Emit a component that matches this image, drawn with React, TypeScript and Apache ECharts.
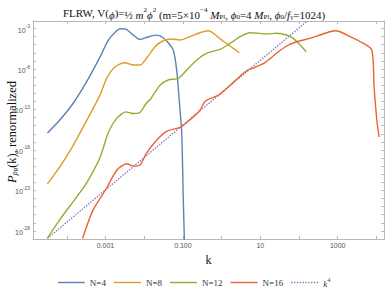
import React, { useEffect, useRef } from 'react';
import * as echarts from 'echarts';

// log10(k) and log10(P)
const n4LogK = [-4.50, -4.18, -3.83, -3.49, -3.14, -2.93, -2.75, -2.62, -2.47, -2.28, -2.11, -1.94, -1.72, -1.59, -1.42, -1.25, -1.16, -1.09, -1.03, -0.99, -0.964, -0.95];
const n4LogP = [-15.9, -14.3, -12.2, -9.6, -6.5, -4.45, -3.45, -3.02, -3.08, -3.82, -4.35, -4.11, -3.82, -3.91, -4.53, -5.67, -8.13, -12.2, -15.9, -24.1, -28.8, -31];

const n8LogK = [-4.50, -4.18, -3.83, -3.49, -3.14, -2.97, -2.75, -2.50, -2.28, -2.11, -1.94, -1.72, -1.51, -1.29, -1.07, -0.82, -0.56, -0.34, -0.21, 0.00, 0.22, 0.46];
const n8LogP = [-22.2, -20.1, -17.4, -14.4, -11.2, -9.15, -7.72, -7.22, -7.51, -7.51, -6.68, -5.25, -4.51, -4.30, -4.42, -4.01, -3.52, -3.27, -3.59, -4.42, -5.16, -5.99];

const n12LogK = [-4.50, -4.18, -3.79, -3.49, -3.14, -2.93, -2.71, -2.47, -2.29, -2.12, -1.94, -1.85, -1.59, -1.38, -1.12, -0.90, -0.64, -0.39, -0.04, 0.22, 0.48, 0.73, 0.95, 1.17, 1.42, 1.68, 1.85, 2.03, 2.18];
const n12LogP = [-28.9, -26.6, -24.1, -22.1, -18.9, -15.9, -14.1, -13.3, -13.5, -13.4, -12.2, -11.8, -10.0, -9.36, -9.15, -8.12, -6.89, -6.06, -5.57, -4.83, -4.01, -3.52, -3.59, -3.68, -3.59, -3.80, -4.21, -5.04, -5.86];

const n16LogK = [-3.59, -3.32, -2.97, -2.71, -2.45, -2.28, -2.11, -1.94, -1.68, -1.42, -1.07, -0.82, -0.56, -0.43, -0.21, -0.04, 0.13, 0.39, 0.65, 0.86, 1.12, 1.42, 1.68, 1.94, 2.28, 2.54, 2.80, 2.93, 3.06, 3.32, 3.58, 3.88, 3.94, 4.01, 4.07];
const n16LogP = [-28.9, -25.4, -22.7, -20.5, -19.7, -20.0, -19.85, -18.4, -16.8, -15.7, -15.2, -14.3, -13.1, -12.0, -11.5, -11.1, -10.4, -9.27, -8.21, -7.79, -7.22, -6.06, -5.16, -4.63, -4.21, -3.80, -3.40, -3.27, -3.40, -4.01, -4.63, -5.65, -10.2, -14.3, -16.4];

const k4LogK = [-4.50, 2.22];
const k4LogP = [-28.93, -2.05];

const seriesNames = ['N=4', 'N=8', 'N=12', 'N=16', 'k4'];
const seriesColors = ['#5E81B5', '#E19C24', '#8FB032', '#EB6235', '#8778B3'];

const xLabelValues = [-3, -1, 1, 3];
const xLabelTexts = ['0.001', '0.100', '10', '1000'];
const xTickValues = [-4, -3, -2, -1, 0, 1, 2, 3, 4];
const yLabelValues = [-28, -23, -18, -13, -8, -3];
const yTickValues = [-29, -28, -27, -26, -25, -24, -23, -22, -21, -20, -19, -18, -17, -16, -15, -14, -13, -12, -11, -10, -9, -8, -7, -6, -5, -4, -3];

const X_MIN = -4.873;
const X_MAX = 4.196;
const Y_MIN = -29;
const Y_MAX = -2.07;

const pair = (xs: number[], ys: number[]) => xs.map((x, i) => [x, ys[i]]);

const solidIcon = 'path://M0,0L27,0L27,1.4L0,1.4Z';
let dots = '';
for (let i = 0; i < 10; i++) dots += `M${(i * 2.85).toFixed(2)},0h1.4v1.4h-1.4Z`;
const dottedIcon = 'path://' + dots;

export default function App() {
  const ref = useRef<HTMLDivElement>(null);
  useEffect(() => {
    if (!ref.current) return;
    const chart = echarts.init(ref.current, undefined, { renderer: 'svg' });
    const frame = '#b8b8b8';
    const serif = '"Liberation Serif", "DejaVu Serif", serif';
    const sans = '"Liberation Sans", "DejaVu Sans", sans-serif';
    const baseX = (pos: 'bottom' | 'top', labels: boolean) => ({
      type: 'value', position: pos, min: X_MIN, max: X_MAX,
      axisLine: { show: true, onZero: false, lineStyle: { color: frame, width: 1 } },
      axisTick: { show: true, inside: true, length: 3, customValues: xTickValues, lineStyle: { color: frame } },
      axisLabel: labels ? {
        show: true, customValues: xLabelValues, fontSize: 7, fontFamily: sans, color: '#555', margin: 3,
        formatter: (v: number) => { const i = xLabelValues.indexOf(Math.round(v)); return i >= 0 ? xLabelTexts[i] : ''; },
      } : { show: false },
      splitLine: { show: false },
    });
    const baseY = (pos: 'left' | 'right', labels: boolean) => ({
      type: 'value', position: pos, min: Y_MIN, max: Y_MAX,
      axisLine: { show: true, onZero: false, lineStyle: { color: frame, width: 1 } },
      axisTick: { show: true, inside: true, length: 3, customValues: yTickValues, lineStyle: { color: frame } },
      axisLabel: labels ? {
        show: true, customValues: yLabelValues, fontFamily: sans, color: '#555', margin: 3,
        formatter: (v: number) => `{b|10}{s|${Math.round(v)}}`,
        rich: {
          b: { fontSize: 7, fontFamily: sans, color: '#555', lineHeight: 10, verticalAlign: 'bottom' },
          s: { fontSize: 5, fontFamily: sans, color: '#555', lineHeight: 6, verticalAlign: 'top' },
        },
      } : { show: false },
      splitLine: { show: false },
    });
    const xMain: any = baseX('bottom', true);
    xMain.name = 'k';
    xMain.nameLocation = 'middle';
    xMain.nameGap = 10;
    xMain.nameTextStyle = { fontFamily: serif, fontSize: 12, color: '#111' };

    const series: any[] = [
      pair(n4LogK, n4LogP), pair(n8LogK, n8LogP), pair(n12LogK, n12LogP), pair(n16LogK, n16LogP), pair(k4LogK, k4LogP),
    ].map((d, i) => ({
      name: seriesNames[i], type: 'line', data: d, symbol: 'none', showSymbol: false, smooth: i === 4 ? false : 0.25,
      clip: true, xAxisIndex: 0, yAxisIndex: 0,
      lineStyle: { color: seriesColors[i], width: 1.4, type: i === 4 ? 'dotted' : 'solid' },
      itemStyle: { color: seriesColors[i] },
      z: i === 4 ? 1 : 2,
    }));

    chart.setOption({
      animation: false,
      backgroundColor: '#fff',
      title: {
        text: 'FLRW, V({i|ϕ})={n|½ }{i|m}{sup|2}{i|ϕ}{sup|2}{n| (m=5×10}{sup|−4}{n| }{i|M}{sub|Pl}{n|, }{i|ϕ}{sub|0}{n|=4 }{i|M}{sub|Pl}{n|, }{i|ϕ}{sub|0}{n|/}{i|f}{sub|γ}{n|=1024)}',
        left: 'center', top: 1,
        textStyle: {
          fontFamily: serif, fontSize: 11, fontWeight: 'normal', color: '#111',
          rich: {
            n: { fontFamily: serif, fontSize: 11, lineHeight: 14, verticalAlign: 'bottom', color: '#111' },
            i: { fontFamily: serif, fontStyle: 'italic', fontSize: 11, lineHeight: 14, verticalAlign: 'bottom', color: '#111' },
            sup: { fontFamily: serif, fontSize: 7, lineHeight: 8, verticalAlign: 'top', color: '#111' },
            sub: { fontFamily: serif, fontSize: 7, lineHeight: 8, verticalAlign: 'bottom', color: '#111' },
          },
        },
      },
      graphic: [{
        type: 'text', x: 11, y: 132, rotation: Math.PI / 2,
        style: {
          text: '{i|P}{s|ρ}{ss|R}{n|(k), renormalized}',
          align: 'center', verticalAlign: 'middle',
          rich: {
            i: { fontFamily: serif, fontStyle: 'italic', fontSize: 12.5, lineHeight: 15, verticalAlign: 'bottom', fill: '#111' },
            s: { fontFamily: serif, fontStyle: 'italic', fontSize: 8, lineHeight: 10, verticalAlign: 'bottom', fill: '#111' },
            ss: { fontFamily: serif, fontStyle: 'italic', fontSize: 6, lineHeight: 6, verticalAlign: 'bottom', fill: '#111' },
            n: { fontFamily: serif, fontSize: 12.5, lineHeight: 15, verticalAlign: 'bottom', fill: '#111' },
          },
        },
      }],
      grid: { left: 33, right: 4, top: 21, bottom: 49, containLabel: false, outerBoundsMode: 'none' },
      xAxis: [xMain, baseX('top', false)],
      yAxis: [baseY('left', true), baseY('right', false)],
      legend: {
        left: 'center', top: 272, itemWidth: 27, itemHeight: 1.4, itemGap: 8,
        textStyle: {
          fontFamily: serif, fontSize: 9, color: '#333',
          rich: {
            i: { fontFamily: serif, fontStyle: 'italic', fontSize: 9, lineHeight: 11, verticalAlign: 'bottom', color: '#333' },
            sup: { fontFamily: serif, fontSize: 6, lineHeight: 6, verticalAlign: 'top', color: '#333' },
          },
        },
        formatter: (name: string) => (name === 'k4' ? '{i|k}{sup|4}' : name),
        data: seriesNames.map((n, i) => ({ name: n, icon: i === 4 ? dottedIcon : solidIcon })),
      },
      series,
    });
    return () => chart.dispose();
  }, []);
  return <div ref={ref} style={{ position: 'fixed', left: 0, top: 0, width: 388, height: 288 }} />;
}
